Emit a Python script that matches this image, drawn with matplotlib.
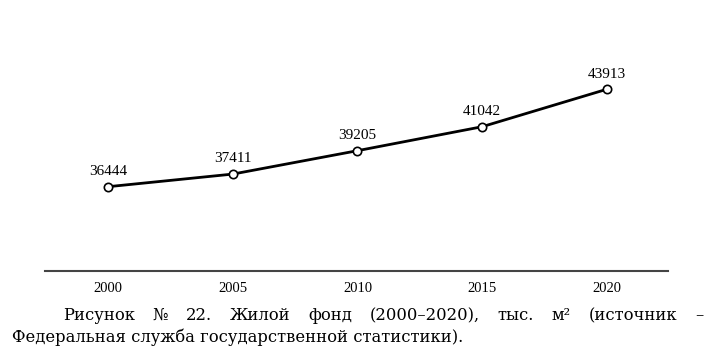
import matplotlib
matplotlib.use("Agg")
import matplotlib.pyplot as plt

years = [2000, 2005, 2010, 2015, 2020]
values = [36444, 37411, 39205, 41042, 43913]
tick_labels = ["2000", "2005", "2010", "2015", "2020"]
caption_line1 = ["Рисунок", "№", "22.", "Жилой", "фонд", "(2000–2020),", "тыс.", "м²", "(источник", "–"]
caption_line2 = "Федеральная служба государственной статистики)."

W, H = 720, 356
fig = plt.figure(figsize=(W / 100, H / 100), dpi=100)
fig.patch.set_facecolor("white")

ax_left, ax_right = 45, 668
ax_top, ax_bottom = 36.0, 270.7
ax = fig.add_axes([ax_left / W, (H - ax_bottom) / H,
                   (ax_right - ax_left) / W, (ax_bottom - ax_top) / H])

serif = "Liberation Serif"
cap_font = "DejaVu Serif"

ax.plot(years, values, color="black", lw=2.0, marker="o", markersize=6,
        markerfacecolor="white", markeredgecolor="black", markeredgewidth=1.2,
        solid_capstyle="round", zorder=3, clip_on=False)

for x, v in zip(years, values):
    ax.annotate(f"{v}", (x, v), xytext=(0, 8.4), textcoords="offset points",
                ha="center", va="baseline", fontsize=11, family=serif, color="black")

ax.set_xlim(1997.46, 2022.46)
ax.set_ylim(30000, 48000)
ax.set_xticks(years)
ax.set_xticklabels(tick_labels, family=serif, fontsize=10.5, color="black")
ax.tick_params(axis="x", length=0, pad=8.0)
ax.set_yticks([])
for s in ["left", "right", "top"]:
    ax.spines[s].set_visible(False)
ax.spines["bottom"].set_color("#444")
ax.spines["bottom"].set_linewidth(1.5)
ax.set_facecolor("white")

# Caption: fit size to the second line's width, then justify the first line
fig.canvas.draw()
renderer = fig.canvas.get_renderer()
t2 = fig.text(12 / W, 1 - 342.5 / H, caption_line2, family=cap_font, fontsize=12,
              ha="left", va="baseline", color="black")
w2 = t2.get_window_extent(renderer).width
cap_size = 12 * (462 - 12) / w2
t2.set_fontsize(cap_size)

texts = []
for w in caption_line1:
    t = fig.text(0, 1 - 320 / H, w, family=cap_font, fontsize=cap_size,
                 ha="left", va="baseline", color="black")
    texts.append(t)
widths = [t.get_window_extent(renderer).width for t in texts]
x0, x1 = 63, 703
gap = (x1 - x0 - sum(widths)) / (len(texts) - 1)
x = x0
for t, wd in zip(texts, widths):
    t.set_x(x / W)
    x += wd + gap

fig.savefig("out.png", dpi=100, facecolor="white")
